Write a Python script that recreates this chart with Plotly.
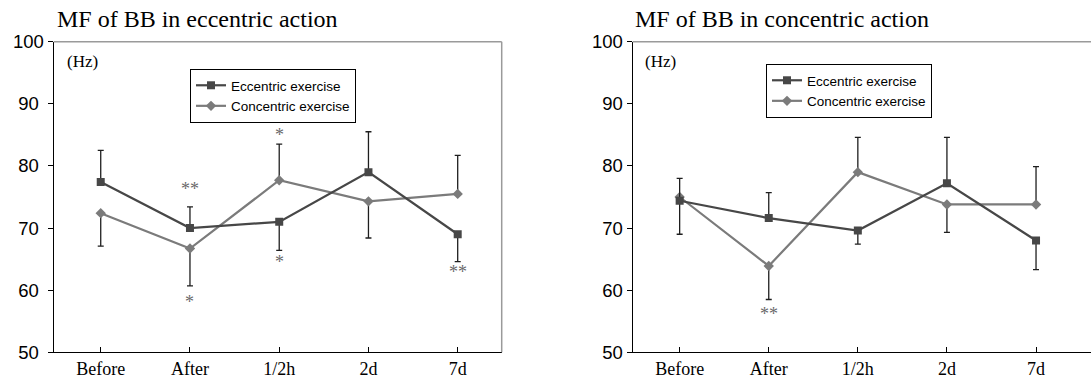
import plotly.graph_objects as go

# ---------------- data ----------------
categories = ["Before", "After", "1/2h", "2d", "7d"]

# Left panel: MF of BB in eccentric action
ecc_left = [77.4, 70.0, 71.0, 79.0, 69.0]
ecc_left_err_up = [5.1, 3.4, 0, 6.5, 0]
ecc_left_err_down = [0, 0, 4.6, 0, 4.4]
con_left = [72.4, 66.7, 77.7, 74.3, 75.5]
con_left_err_up = [0, 0, 5.8, 0, 6.2]
con_left_err_down = [5.3, 6.0, 0, 5.9, 0]

# Right panel: MF of BB in concentric action
ecc_right = [74.4, 71.6, 69.6, 77.2, 68.0]
ecc_right_err_up = [3.6, 4.1, 0, 7.4, 0]
ecc_right_err_down = [0, 0, 2.2, 0, 4.7]
con_right = [75.0, 63.9, 79.0, 73.8, 73.8]
con_right_err_up = [0, 0, 5.6, 0, 6.1]
con_right_err_down = [6.0, 5.4, 0, 4.5, 0]

# significance marks: (text, category index, y value)
left_marks = [("**", 1, 76.3), ("*", 1, 58.1), ("*", 2, 85.0), ("*", 2, 64.5), ("**", 4, 62.9)]
right_marks = [("**", 1, 56.2)]

y_ticks = [50, 60, 70, 80, 90, 100]
panel_titles = ["MF of BB in eccentric action", "MF of BB in concentric action"]
series_names = ["Eccentric exercise", "Concentric exercise"]

# ---------------- styles ----------------
W, H = 1091, 378
SERIF = "Liberation Serif, Times New Roman, serif"
SANS = "Liberation Sans, Arial, sans-serif"
ECC_COLOR = "#474747"
CON_COLOR = "#7b7b7b"
ERR_COLOR = "#1e1e1e"

fig = go.Figure()


def add_series(xa, ya, leg, y, up, down, name, color, symbol, size):
    fig.add_trace(go.Scatter(
        x=categories, y=y, name=name, mode="lines+markers",
        xaxis=xa, yaxis=ya, legend=leg,
        line=dict(color=color, width=2.2),
        marker=dict(symbol=symbol, size=size, color=color),
        error_y=dict(type="data", symmetric=False, array=up, arrayminus=down,
                     color=ERR_COLOR, thickness=1.3, width=3),
    ))


add_series("x", "y", "legend", con_left, con_left_err_up, con_left_err_down,
           series_names[1], CON_COLOR, "diamond", 8)
add_series("x", "y", "legend", ecc_left, ecc_left_err_up, ecc_left_err_down,
           series_names[0], ECC_COLOR, "square", 8)
add_series("x2", "y2", "legend2", con_right, con_right_err_up, con_right_err_down,
           series_names[1], CON_COLOR, "diamond", 8)
add_series("x2", "y2", "legend2", ecc_right, ecc_right_err_up, ecc_right_err_down,
           series_names[0], ECC_COLOR, "square", 8)

# legend order: eccentric first
for tr in fig.data:
    tr.legendrank = 1 if tr.name == series_names[0] else 2

y_dom = [1 - 352.3 / H, 1 - 41.7 / H]

xcommon = dict(showline=True, linecolor="black", linewidth=1.3, ticks="inside",
               ticklen=5, tickcolor="black", tickwidth=1, showgrid=False,
               zeroline=False, automargin=False,
               tickfont=dict(family=SERIF, size=18, color="black"))
ycommon = dict(range=[50, 100], tickvals=y_ticks, showline=True, linecolor="black",
               linewidth=1.3, ticks="outside", ticklen=5, tickcolor="black",
               showgrid=False, zeroline=False, domain=y_dom, automargin=False,
               tickfont=dict(family=SANS, size=18.5, color="black"))

left_ticktext = [str(v) + ("" if v >= 100 else "\u00a0") for v in y_ticks]

legend_common = dict(xanchor="left", yanchor="top", bordercolor="black", borderwidth=1,
                     bgcolor="white", font=dict(family=SANS, size=13.5, color="black"),
                     itemwidth=30, traceorder="normal")

fig.update_layout(
    width=W, height=H, margin=dict(l=0, r=0, t=0, b=0, autoexpand=False),
    paper_bgcolor="white", plot_bgcolor="white",
    xaxis=dict(domain=[53.7 / W, 501.7 / W], range=[-0.527, 4.493], anchor="y", **xcommon),
    yaxis=dict(anchor="x", ticktext=left_ticktext, **ycommon),
    xaxis2=dict(domain=[632.7 / W, 1.0], range=[-0.527, 4.617], anchor="y2", **xcommon),
    yaxis2=dict(anchor="x2", ticktext=[str(v) for v in y_ticks], **ycommon),
    legend=dict(x=190 / W, y=1 - 69 / H, **legend_common),
    legend2=dict(x=766 / W, y=1 - 64 / H, **legend_common),
    showlegend=True,
)

# gray top/right frame lines
shapes = []
for xr, yr, right in (("x domain", "y domain", True), ("x2 domain", "y2 domain", False)):
    shapes.append(dict(type="line", xref=xr, yref=yr, x0=0, x1=1, y0=1, y1=1,
                       line=dict(color="#9a9a9a", width=1.5)))
    if right:
        shapes.append(dict(type="line", xref=xr, yref=yr, x0=1, x1=1, y0=0, y1=1,
                           line=dict(color="#9a9a9a", width=1.5)))
fig.update_layout(shapes=shapes)

annotations = []
# panel titles
for text, xpix in ((panel_titles[0], 56), (panel_titles[1], 634)):
    annotations.append(dict(text=text, xref="paper", yref="paper", x=xpix / W,
                            y=1 - 33 / H, xanchor="left", yanchor="bottom",
                            showarrow=False, borderpad=0,
                            font=dict(family=SERIF, size=24, color="black")))
# (Hz) labels
for xpix, ypix in ((65, 62), (643, 61)):
    annotations.append(dict(text="(Hz)", xref="paper", yref="paper", x=xpix / W,
                            y=1 - ypix / H, xanchor="left", yanchor="middle",
                            showarrow=False,
                            font=dict(family=SERIF, size=17, color="black")))
# significance marks
for marks, xr, yr in ((left_marks, "x", "y"), (right_marks, "x2", "y2")):
    for text, ci, yv in marks:
        annotations.append(dict(text=text, xref=xr, yref=yr, x=categories[ci], y=yv,
                                showarrow=False, xanchor="center", yanchor="middle",
                                font=dict(family=SERIF, size=18, color="#6a6a6a")))
fig.update_layout(annotations=annotations)

fig.write_html("out.html")
